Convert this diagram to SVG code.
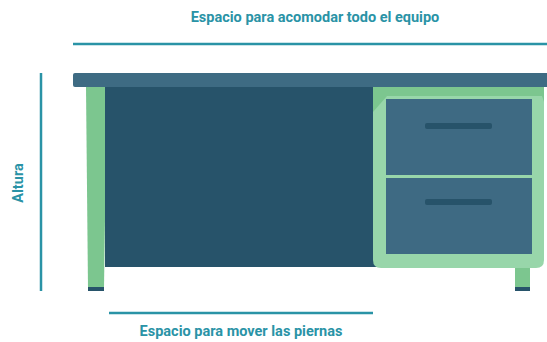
<svg xmlns="http://www.w3.org/2000/svg" width="547" height="342" viewBox="0 0 547 342">
  <style>
    .dim { stroke: #2a93a6; stroke-width: 2.5; fill: none; }
    .lbl { font-family: Roboto, "Liberation Sans", sans-serif; font-weight: bold; font-size: 14.5px; fill: #2a93a6; text-anchor: middle; }
    .top { fill: #3e6b83; }
    .panel { fill: #27536a; }
    .leg { fill: #7cc68f; }
    .frame { fill: #98d6aa; }
    .drawer { fill: #3e6a83; }
    .handle { fill: #27536a; }
    .foot { fill: #27536a; }
  </style>

  <!-- dimension lines -->
  <g id="dimensions">
    <line class="dim" x1="73" y1="44" x2="547" y2="44"/>
    <line class="dim" x1="41" y1="73" x2="41" y2="291"/>
    <line class="dim" x1="109" y1="313" x2="373" y2="313"/>
  </g>

  <g id="label-width">
    <text class="lbl" x="315" y="22">Espacio para acomodar todo el equipo</text>
  </g>
  <g id="label-height">
    <text class="lbl" transform="translate(23,183) rotate(-90)">Altura</text>
  </g>
  <g id="label-legroom">
    <text class="lbl" x="241" y="336">Espacio para mover las piernas</text>
  </g>

  <!-- desk -->
  <g id="desk">
    <!-- left leg -->
    <polygon class="leg" points="86,87 107,87 104,288 88,288"/>
    <rect class="foot" x="88" y="287" width="16" height="4"/>
    <!-- modesty panel -->
    <rect class="panel" x="105" y="87" width="272" height="180"/>
    <!-- right leg -->
    <rect class="leg" x="515" y="265" width="15" height="24"/>
    <rect class="foot" x="515" y="287" width="15" height="4"/>
    <!-- drawer cabinet frame -->
    <path class="frame" d="M373,87 H544 V260 Q544,268 536,268 H381 Q373,268 373,260 Z"/>
    <path class="leg" d="M373,87 H544 V102 L542,96 H387 L373,112 Z"/>
    <!-- drawers -->
    <rect class="drawer" x="386" y="99" width="146" height="76"/>
    <rect class="drawer" x="386" y="178" width="146" height="76"/>
    <rect class="handle" x="425" y="123" width="67" height="6" rx="2"/>
    <rect class="handle" x="425" y="199" width="67" height="6" rx="2"/>
    <!-- desktop -->
    <rect class="top" x="73" y="73" width="480" height="14" rx="2"/>
  </g>
</svg>
